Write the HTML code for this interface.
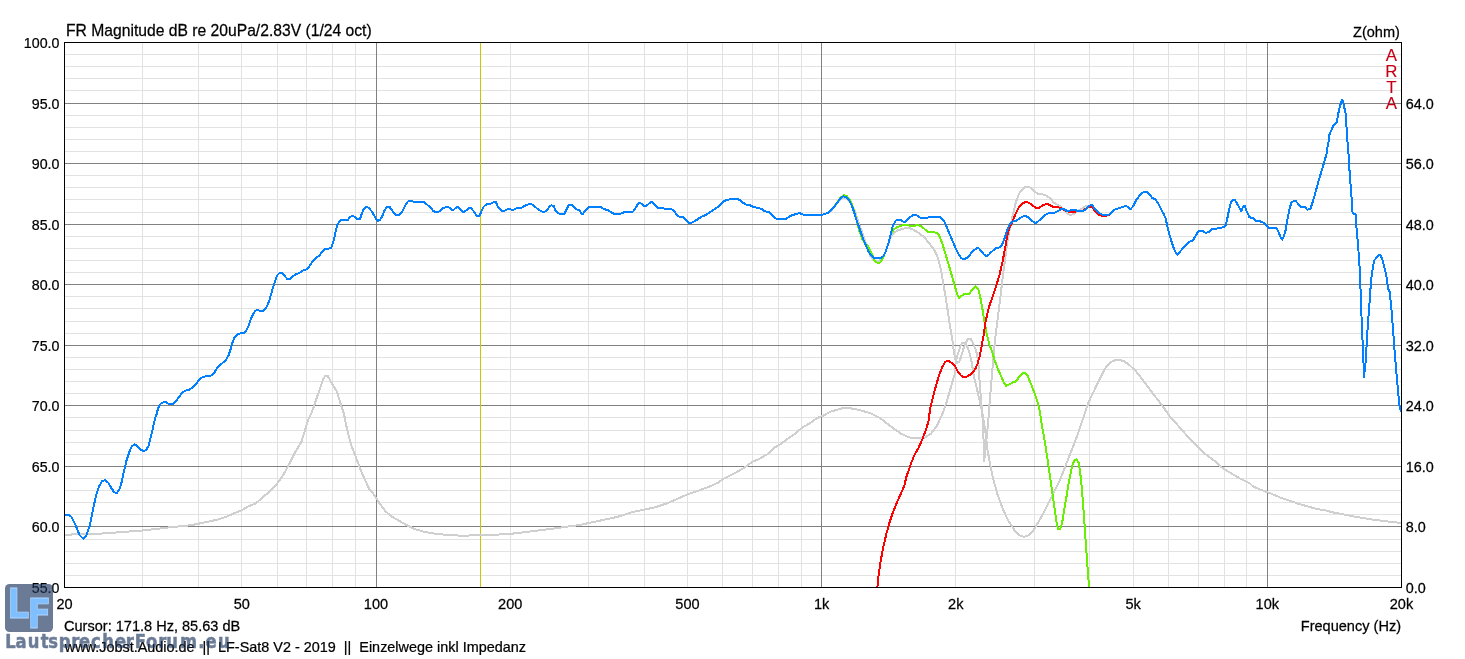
<!DOCTYPE html>
<html lang="en">
<head>
<meta charset="utf-8">
<title>FR Magnitude</title>
<style>
html,body{margin:0;padding:0;background:#fff;}
body{width:1465px;height:659px;overflow:hidden;font-family:"Liberation Sans",Arial,sans-serif;}
svg{display:block;}
svg text{font-family:"Liberation Sans",Arial,sans-serif;font-size:15.4px;fill:#000;stroke:#000;stroke-width:0.25px;}
svg text.t16{font-size:16.4px;}
svg text.arta{font-size:16.4px;fill:#c60014;stroke:#c60014;stroke-width:0.1px;}
svg text.lf{font-family:"DejaVu Sans","Liberation Sans",sans-serif;font-weight:bold;font-size:41px;fill:#3c9eff;stroke:#84c1ff;stroke-width:0.8px;}
svg text.wm{font-family:"DejaVu Sans","Liberation Sans",sans-serif;font-weight:bold;font-size:19.5px;fill:#1d365e;stroke:#1d365e;stroke-width:0.6px;stroke-linejoin:round;}
</style>
</head>
<body>
<svg width="1465" height="659" viewBox="0 0 1465 659">
<rect x="0" y="0" width="1465" height="659" fill="#ffffff"/>
<path d="M64 575.5H1401M64 563.5H1401M64 551.5H1401M64 539.5H1401M64 514.5H1401M64 502.5H1401M64 490.5H1401M64 478.5H1401M64 454.5H1401M64 442.5H1401M64 430.5H1401M64 417.5H1401M64 393.5H1401M64 381.5H1401M64 369.5H1401M64 357.5H1401M64 333.5H1401M64 321.5H1401M64 308.5H1401M64 296.5H1401M64 272.5H1401M64 260.5H1401M64 248.5H1401M64 236.5H1401M64 212.5H1401M64 199.5H1401M64 187.5H1401M64 175.5H1401M64 151.5H1401M64 139.5H1401M64 127.5H1401M64 115.5H1401M64 90.5H1401M64 78.5H1401M64 66.5H1401M64 54.5H1401M142.5 42V587M198.5 42V587M241.5 42V587M277.5 42V587M306.5 42V587M332.5 42V587M355.5 42V587M510.5 42V587M588.5 42V587M644.5 42V587M687.5 42V587M722.5 42V587M752.5 42V587M778.5 42V587M801.5 42V587M955.5 42V587M1034.5 42V587M1089.5 42V587M1133.5 42V587M1168.5 42V587M1198.5 42V587M1224.5 42V587M1246.5 42V587" stroke="#e2e2e2" stroke-width="1" fill="none" shape-rendering="crispEdges"/>
<path d="M64 526.5H1401M64 466.5H1401M64 405.5H1401M64 345.5H1401M64 284.5H1401M64 224.5H1401M64 163.5H1401M64 103.5H1401M376.5 42V587M821.5 42V587M1267.5 42V587" stroke="#808080" stroke-width="1" fill="none" shape-rendering="crispEdges"/>
<path d="M480.5 42V587" stroke="#c8c800" stroke-width="1" fill="none" shape-rendering="crispEdges"/>
<defs><clipPath id="plotclip"><rect x="65" y="43" width="1337" height="545"/></clipPath></defs>
<g clip-path="url(#plotclip)" fill="none" stroke-linejoin="round" stroke-linecap="round" shape-rendering="crispEdges">
<path d="M64.5 534.6 L80.5 534.4 L101.0 533.6 L121.5 532.1 L142.0 530.5 L162.5 528.2 L172.7 527.0 L191.1 525.2 L203.4 522.7 L217.8 519.6 L228.0 516.1 L234.2 513.1 L241.4 510.4 L248.5 506.3 L255.7 503.6 L261.8 498.1 L269.0 492.0 L276.2 484.8 L282.3 476.6 L286.4 469.4 L289.5 463.3 L293.6 455.1 L297.7 447.9 L301.4 441.8 L304.9 430.5 L308.0 420.2 L311.0 414.1 L314.4 405.0 L318.5 392.7 L322.6 380.4 L325.1 375.9 L327.7 375.9 L330.8 381.4 L333.9 386.6 L337.0 391.7 L340.0 401.9 L344.1 414.2 L345.6 422.3 L348.3 434.6 L351.1 444.8 L354.8 454.1 L358.9 465.3 L363.0 475.6 L369.2 488.9 L374.3 495.0 L379.4 503.2 L385.6 511.4 L391.7 516.6 L398.9 520.7 L406.1 524.8 L414.3 528.9 L424.5 531.9 L436.8 534.0 L449.1 535.0 L463.4 535.8 L479.8 535.0 L494.2 534.6 L504.4 534.4 L514.7 533.4 L527.0 531.9 L539.3 530.3 L551.6 528.9 L565.9 526.8 L578.2 525.2 L590.5 522.7 L602.8 520.0 L615.1 517.4 L620.5 516.0 L632.8 511.9 L645.1 509.5 L655.3 507.2 L667.6 503.1 L677.9 498.6 L686.1 494.9 L696.3 491.4 L708.6 486.9 L717.8 482.8 L723.0 479.1 L733.2 474.0 L743.4 468.3 L752.7 461.7 L759.8 458.6 L767.0 454.5 L774.2 447.8 L780.3 444.3 L787.5 438.8 L794.7 434.1 L801.8 427.9 L809.0 423.8 L817.2 418.1 L823.4 415.6 L829.5 412.1 L835.7 410.1 L841.8 408.4 L849.0 408.0 L850.0 408.2 L860.2 410.2 L870.5 413.3 L880.7 418.4 L891.0 426.6 L901.2 433.8 L909.4 437.5 L917.6 438.1 L924.8 437.5 L930.9 433.8 L937.1 425.6 L942.2 414.3 L946.3 403.1 L954.8 373.7 L955.2 365.9 L956.1 361.0 L957.3 356.1 L958.5 352.0 L959.8 347.9 L961.0 344.6 L962.2 343.1 L965.1 343.2 L966.7 345.4 L968.0 348.7 L969.6 353.6 L970.8 358.5 L972.0 363.4 L973.3 373.7 L979.5 400.0 L982.2 412.3 L985.2 430.7 L987.7 451.2 L990.4 465.6 L993.4 479.9 L997.5 494.3 L1002.7 508.6 L1007.8 519.9 L1013.9 529.1 L1015.0 531.2 L1020.1 535.7 L1024.2 536.8 L1028.3 535.3 L1033.4 530.2 L1038.5 522.0 L1044.7 510.7 L1050.8 498.4 L1055.9 488.2 L1060.0 480.0 L1065.2 466.6 L1071.3 451.2 L1077.5 434.8 L1083.6 416.4 L1088.7 402.0 L1100.0 378.3 L1104.4 369.5 L1108.7 364.0 L1113.1 360.8 L1118.6 359.7 L1124.0 361.2 L1129.5 365.1 L1135.0 370.2 L1141.5 378.3 L1148.1 387.0 L1154.6 395.7 L1162.3 405.6 L1169.9 416.5 L1178.7 426.3 L1187.4 436.2 L1196.2 444.9 L1204.9 453.7 L1213.7 460.2 L1222.4 467.9 L1231.1 473.3 L1239.9 478.4 L1249.7 483.2 L1252.8 486.2 L1259.6 489.3 L1267.8 492.3 L1274.6 495.1 L1281.5 498.1 L1289.7 500.8 L1297.9 503.6 L1306.1 506.0 L1315.6 508.7 L1325.2 510.4 L1334.8 512.8 L1344.3 514.5 L1353.9 516.5 L1363.4 518.0 L1373.0 519.7 L1383.9 521.0 L1393.5 522.1 L1401.0 523.1" stroke="#cfcfcf" stroke-width="2"/>
<path d="M810.0 214.9 L818.2 214.9 L822.3 214.7 L825.4 213.7 L828.4 212.9 L831.5 210.2 L834.6 206.7 L837.7 202.6 L840.7 198.9 L843.8 197.9 L846.9 198.9 L850.0 202.0 L854.1 209.2 L858.2 221.5 L862.3 232.7 L866.4 245.0 L870.5 256.3 L873.5 260.4 L876.6 261.4 L879.7 260.4 L882.7 257.3 L885.8 251.2 L888.3 244.0 L890.9 236.8 L894.0 232.7 L898.1 230.3 L903.2 228.6 L908.4 227.6 L912.5 229.3 L916.6 231.7 L920.7 234.4 L924.8 237.9 L928.9 243.0 L933.0 248.1 L936.0 253.2 L938.7 260.4 L941.1 270.7 L943.2 283.0 L945.2 294.2 L949.1 320.0 L950.7 329.8 L952.4 340.5 L953.6 349.5 L954.8 356.9 L956.1 361.4 L957.3 362.6 L958.9 362.2 L960.2 359.3 L961.8 354.4 L963.4 348.7 L965.5 343.8 L967.1 340.1 L968.4 339.0 L970.8 339.0 L972.5 342.1 L974.1 346.2 L975.7 349.5 L977.0 354.4 L977.8 360.2 L978.6 365.9 L979.0 373.7 L981.1 400.0 L982.8 420.5 L983.6 441.0 L984.2 461.1 L985.2 451.2 L986.3 441.0 L988.3 420.5 L989.8 400.0 L992.1 373.7 L993.0 361.0 L993.8 352.8 L994.6 344.6 L995.8 333.9 L997.0 324.1 L997.5 320.0 L1003.6 270.7 L1005.7 254.3 L1007.7 239.9 L1009.8 228.6 L1011.8 219.4 L1013.9 210.2 L1015.9 202.0 L1019.0 193.8 L1022.1 189.7 L1025.2 187.0 L1028.2 186.6 L1031.3 188.1 L1034.4 191.1 L1037.5 193.8 L1041.6 194.2 L1045.7 195.2 L1049.8 197.9 L1053.9 202.6 L1058.0 205.1 L1061.0 206.7 L1064.1 210.2 L1067.2 213.7 L1070.2 214.9 L1073.3 214.3 L1076.4 211.2 L1080.5 209.6 L1084.6 206.7 L1087.7 205.5 L1090.7 205.5" stroke="#cfcfcf" stroke-width="2"/>
<path d="M810.0 214.9 L818.2 214.9 L822.3 214.7 L825.4 213.7 L828.4 212.9 L831.5 209.8 L834.6 206.1 L837.7 201.6 L840.7 197.3 L843.8 195.2 L846.9 196.1 L850.0 200.0 L852.4 205.5 L854.5 212.3 L856.7 220.5 L859.2 230.7 L862.3 238.9 L865.3 244.0 L868.4 246.5 L871.5 253.2 L874.5 260.4 L877.6 263.1 L880.1 262.5 L882.7 258.4 L885.4 252.2 L888.3 244.0 L890.9 233.8 L894.0 229.3 L897.1 227.2 L901.2 225.6 L905.3 225.2 L910.4 225.6 L914.5 225.6 L918.6 225.2 L921.7 226.6 L924.8 229.3 L927.8 231.7 L931.9 232.1 L936.0 232.7 L938.1 233.8 L940.1 237.9 L942.8 245.0 L945.2 253.2 L947.7 261.4 L950.4 270.7 L952.8 278.9 L955.1 287.0 L957.1 294.2 L959.0 298.3 L962.7 294.8 L965.8 293.8 L969.3 293.8 L972.5 289.5 L975.4 286.0 L978.1 288.7 L980.1 296.3 L982.2 307.5 L984.2 319.8 L986.3 332.1 L989.3 344.4 L992.4 352.6 L994.5 359.8 L997.5 368.0 L1000.6 375.2 L1003.7 382.3 L1006.1 385.8 L1009.8 384.0 L1013.9 381.9 L1016.4 381.3 L1019.1 376.8 L1022.1 373.5 L1024.6 372.7 L1027.3 375.2 L1029.9 381.3 L1032.4 387.5 L1035.5 395.7 L1038.1 403.9 L1040.0 412.0 L1041.0 420.5 L1043.6 434.8 L1046.3 451.2 L1048.8 467.6 L1050.8 482.0 L1052.9 496.3 L1054.9 510.7 L1056.6 523.0 L1058.0 529.1 L1060.0 529.5 L1062.1 523.0 L1064.1 510.7 L1066.2 498.4 L1068.2 486.1 L1070.3 474.8 L1072.3 465.6 L1074.4 460.5 L1076.4 459.4 L1078.5 462.5 L1079.9 469.7 L1081.6 486.1 L1083.0 502.5 L1084.2 518.9 L1085.2 534.2 L1086.1 547.6 L1087.3 564.0 L1088.3 576.3 L1088.9 587.0" stroke="#68f000" stroke-width="2"/>
<path d="M877.4 587.0 L878.5 576.3 L880.5 562.0 L883.2 547.6 L886.0 535.3 L889.3 523.0 L892.8 512.8 L896.9 502.5 L901.0 493.3 L904.5 485.1 L906.1 477.9 L910.2 465.6 L914.3 455.3 L918.4 448.2 L922.5 438.9 L925.6 430.7 L928.7 420.5 L928.7 419.2 L930.3 408.0 L933.0 396.7 L936.1 385.4 L939.1 375.2 L942.2 367.0 L945.3 361.8 L948.4 360.8 L951.4 362.9 L954.5 365.3 L957.6 371.1 L960.7 375.2 L963.7 377.2 L966.8 376.6 L969.9 374.8 L973.0 372.1 L975.4 368.6 L977.5 363.9 L979.5 356.7 L981.6 346.5 L983.6 335.2 L985.2 323.9 L987.3 313.7 L989.8 304.5 L992.4 297.3 L996.5 285.0 L999.5 274.8 L1002.6 261.4 L1004.7 250.2 L1006.7 238.9 L1008.8 229.7 L1011.8 223.5 L1014.9 215.3 L1018.0 208.8 L1021.1 204.7 L1024.1 202.6 L1027.2 202.0 L1030.3 203.6 L1033.4 206.1 L1036.4 208.2 L1039.5 207.5 L1042.6 205.5 L1045.7 204.1 L1048.7 204.5 L1052.8 206.7 L1058.0 207.1 L1061.0 208.2 L1064.1 209.8 L1066.1 211.2 L1070.2 212.0 L1074.3 211.6 L1078.0 211.4 L1081.5 211.4 L1084.6 209.6 L1087.7 207.5 L1090.3 206.1 L1092.8 208.2 L1095.9 212.3 L1098.9 214.9 L1102.0 215.9 L1105.1 215.7 L1106.7 215.7 L1110.1 214.3 L1113.6 209.8 L1116.6 209.0 L1119.7 208.0 L1122.8 206.8 L1125.9 205.9 L1127.9 206.8 L1130.4 209.4 L1133.0 206.4 L1136.1 200.2 L1139.2 196.1 L1142.3 192.6 L1145.3 192.0 L1147.8 192.6 L1150.5 195.5 L1152.5 198.2 L1155.2 199.2 L1157.6 202.3 L1160.7 208.4 L1163.4 213.5 L1165.4 217.6 L1167.5 226.8 L1169.9 236.1 L1172.4 244.3 L1175.0 251.4 L1177.5 254.9 L1180.2 251.4 L1183.2 248.0 L1186.3 244.3 L1189.4 241.8 L1192.5 240.8 L1194.9 237.1 L1197.6 232.6 L1199.6 230.9 L1202.7 231.1 L1205.8 233.0 L1208.9 232.0 L1211.9 229.3 L1216.0 228.9 L1219.1 227.9 L1222.2 227.5 L1225.2 226.4 L1226.9 220.7 L1228.9 210.5 L1231.0 202.3 L1233.0 199.8 L1235.1 200.2 L1237.1 203.7 L1239.6 208.0 L1241.2 211.1 L1243.3 206.4 L1244.7 205.9 L1246.8 211.5 L1249.4 217.2 L1252.9 218.2 L1256.0 220.7 L1260.1 221.3 L1263.8 222.7 L1266.6 225.8 L1269.3 227.9 L1273.4 227.9 L1276.5 228.3 L1278.5 232.0 L1280.6 237.1 L1282.2 239.8 L1284.3 235.0 L1285.7 229.9 L1287.1 220.7 L1289.2 210.5 L1291.2 202.9 L1293.3 201.2 L1295.5 200.8 L1298.0 203.7 L1301.1 206.8 L1304.8 207.0 L1307.2 209.8 L1310.3 209.0 L1312.3 203.3 L1314.4 196.1 L1317.5 184.8 L1320.5 174.6 L1323.6 164.3 L1326.7 153.1 L1327.3 147.6 L1328.6 141.9 L1329.0 135.7 L1330.9 131.1 L1333.0 126.4 L1335.0 124.4 L1336.9 122.3 L1337.6 117.2 L1338.6 112.0 L1339.7 107.3 L1341.0 102.7 L1342.0 99.9 L1343.1 100.6 L1343.8 104.8 L1344.8 109.9 L1345.9 115.1 L1346.2 121.3 L1346.6 128.5 L1347.2 135.7 L1347.6 144.0 L1348.5 153.7 L1349.6 171.9 L1350.8 187.8 L1351.9 201.5 L1352.6 213.3 L1355.8 214.5 L1356.4 226.6 L1357.6 240.2 L1358.7 253.9 L1359.9 272.1 L1360.5 289.2 L1360.5 295.9 L1361.5 316.4 L1362.4 336.9 L1363.3 357.4 L1364.0 376.8 L1365.6 362.0 L1366.7 343.8 L1367.8 325.6 L1369.0 309.6 L1370.1 295.9 L1371.0 280.0 L1371.9 274.4 L1374.0 260.7 L1376.9 257.3 L1379.9 254.6 L1382.0 258.5 L1384.2 266.4 L1386.5 276.7 L1388.3 289.2 L1389.5 291.4 L1391.1 305.1 L1392.4 321.0 L1393.6 336.9 L1394.7 352.9 L1396.3 371.1 L1397.9 389.3 L1399.3 405.3 L1400.9 411.0" stroke="#ff0000" stroke-width="2"/>
<path d="M64.5 515.5 L68.2 514.5 L71.3 516.6 L75.4 524.8 L79.5 535.0 L83.2 538.7 L86.6 535.0 L89.7 525.8 L92.8 510.4 L95.9 496.1 L98.9 486.8 L102.0 481.1 L105.1 480.1 L108.2 482.7 L111.2 487.9 L114.3 492.4 L117.0 492.8 L119.4 489.5 L121.5 482.7 L123.9 471.5 L126.6 460.2 L129.7 451.0 L132.1 445.9 L134.8 444.4 L137.9 446.5 L140.5 449.5 L143.4 451.0 L146.1 450.0 L148.5 445.9 L151.2 435.6 L153.9 423.3 L156.3 414.1 L156.6 414.2 L158.1 408.1 L160.7 403.6 L163.8 402.1 L166.5 402.3 L168.9 404.2 L173.0 404.2 L176.1 400.9 L179.2 396.8 L182.3 392.3 L185.3 390.7 L189.4 389.6 L192.5 387.6 L195.6 384.5 L198.6 380.4 L201.7 377.7 L205.8 376.3 L210.9 375.7 L214.0 373.2 L217.1 368.1 L220.2 365.0 L223.2 362.4 L226.3 359.3 L228.8 354.8 L230.8 348.6 L232.5 342.5 L234.5 337.4 L237.0 334.7 L240.7 333.3 L243.7 332.9 L246.4 330.2 L248.9 325.1 L250.9 318.9 L253.0 314.4 L255.4 310.7 L258.1 310.1 L261.1 311.1 L264.2 310.3 L266.9 306.6 L269.3 300.5 L271.4 293.3 L273.4 286.1 L275.5 280.0 L277.0 275.5 L279.7 272.9 L282.2 273.1 L284.8 276.1 L287.3 279.0 L290.0 279.0 L293.0 276.1 L296.1 274.1 L299.2 273.1 L302.3 270.8 L306.4 269.4 L309.4 266.3 L312.5 261.2 L316.0 257.7 L319.3 255.7 L322.1 252.0 L325.2 248.9 L328.9 248.5 L331.4 247.5 L333.4 241.7 L335.0 234.5 L337.1 225.3 L340.2 220.2 L344.3 219.8 L348.0 219.8 L350.0 217.1 L352.5 215.9 L354.5 216.7 L357.0 218.8 L360.0 218.8 L361.7 214.1 L363.7 208.9 L366.2 206.9 L368.9 207.9 L371.9 211.6 L375.0 217.1 L377.5 220.8 L379.7 220.2 L382.2 216.1 L384.8 210.0 L387.3 206.5 L389.3 206.5 L392.4 211.0 L395.9 214.7 L399.2 214.7 L401.6 212.6 L404.1 207.9 L406.8 202.8 L408.8 200.7 L411.9 201.4 L416.0 202.0 L420.1 202.0 L423.8 202.2 L427.3 204.8 L430.3 207.5 L433.4 211.0 L435.5 212.0 L438.5 212.0 L441.6 209.3 L443.6 207.9 L446.3 207.3 L448.8 207.3 L451.8 210.0 L453.9 209.5 L456.6 207.3 L458.6 207.3 L461.1 210.4 L463.5 212.0 L466.2 210.4 L468.9 208.1 L470.9 208.1 L473.4 211.0 L476.4 215.5 L479.5 216.1 L481.6 211.0 L483.6 206.9 L486.7 204.0 L490.8 203.6 L493.9 202.2 L495.9 202.2 L497.5 205.9 L500.0 209.3 L502.5 211.0 L505.1 210.6 L507.8 208.9 L510.2 208.9 L512.3 210.2 L515.4 208.9 L517.4 207.9 L521.5 207.9 L524.6 205.9 L527.0 204.8 L530.3 203.8 L532.8 204.8 L535.9 207.5 L538.9 210.0 L542.0 211.6 L545.1 211.6 L547.5 210.0 L549.5 206.4 L551.5 205.3 L553.6 205.9 L555.6 210.5 L558.7 213.5 L561.8 214.1 L564.2 213.9 L566.5 209.4 L568.9 204.9 L571.4 204.7 L574.1 207.0 L576.7 209.4 L579.2 209.8 L581.2 213.5 L582.9 213.9 L585.3 210.5 L588.4 207.4 L591.5 206.6 L595.6 206.6 L600.7 206.8 L603.8 209.0 L607.9 210.2 L610.9 212.1 L614.0 213.9 L618.1 213.9 L621.2 213.5 L624.3 212.1 L628.4 211.5 L633.1 211.5 L635.5 208.0 L638.6 202.9 L640.7 203.3 L643.7 205.7 L646.4 205.7 L648.9 203.7 L651.3 201.6 L653.0 202.9 L655.4 205.7 L658.1 208.0 L663.2 208.4 L666.3 209.0 L671.4 209.2 L674.1 211.1 L676.5 214.5 L679.2 216.6 L682.7 217.0 L685.7 219.7 L688.8 222.7 L690.9 223.0 L693.9 221.7 L697.0 219.7 L700.1 217.6 L703.2 216.0 L706.2 214.8 L709.3 212.5 L712.4 210.5 L715.5 208.4 L718.5 206.4 L721.6 203.3 L724.7 200.8 L727.7 199.8 L730.8 199.2 L733.9 198.6 L737.0 198.8 L740.0 200.2 L743.1 202.9 L746.2 204.5 L750.3 205.3 L753.4 207.0 L757.5 207.8 L761.6 209.0 L764.6 211.1 L768.7 212.1 L771.8 215.2 L774.9 217.6 L776.9 219.1 L781.0 219.1 L786.1 218.9 L789.2 216.6 L792.3 215.2 L796.4 213.9 L799.5 213.1 L803.6 214.8 L808.7 215.0 L814.8 215.0 L821.0 215.0 L825.1 213.9 L825.4 213.7 L828.4 212.9 L831.5 209.8 L834.6 206.1 L837.7 202.0 L840.7 197.9 L843.2 196.3 L845.9 196.9 L848.9 200.0 L852.0 206.1 L854.1 212.3 L856.7 220.5 L859.2 227.6 L862.3 236.8 L865.3 244.0 L868.4 251.2 L871.5 255.9 L874.5 258.0 L877.6 258.4 L880.7 258.4 L883.4 256.3 L885.8 251.2 L888.3 244.0 L890.5 234.8 L893.0 225.6 L895.7 220.5 L898.1 219.6 L901.2 220.2 L903.2 221.7 L905.9 221.5 L908.4 219.0 L911.0 216.4 L913.5 214.9 L916.1 214.9 L918.6 216.6 L921.1 218.0 L924.8 218.0 L927.2 217.8 L929.9 216.8 L935.0 216.8 L939.5 216.8 L942.2 219.0 L944.8 222.5 L947.3 228.6 L950.4 235.8 L953.4 243.0 L956.5 250.2 L959.2 255.3 L961.6 258.4 L964.1 259.2 L966.8 258.0 L969.4 255.3 L971.9 252.2 L974.5 249.8 L977.0 248.1 L979.1 248.5 L981.7 251.8 L984.2 254.7 L986.2 255.9 L988.3 255.3 L990.7 252.6 L993.4 250.2 L995.5 248.5 L998.1 247.7 L1000.6 246.9 L1002.6 243.6 L1004.7 237.9 L1006.7 231.7 L1008.8 226.0 L1011.2 222.5 L1013.9 221.1 L1016.6 220.5 L1019.0 218.8 L1022.1 216.8 L1024.1 215.9 L1026.8 216.6 L1029.7 218.4 L1032.3 220.9 L1035.4 223.1 L1037.9 221.5 L1040.5 219.4 L1043.6 216.4 L1046.7 213.9 L1049.8 212.9 L1052.8 212.9 L1055.9 212.3 L1059.0 210.4 L1062.0 208.8 L1064.1 209.2 L1066.6 210.6 L1069.2 210.8 L1072.3 210.0 L1075.4 209.8 L1078.0 211.4 L1081.5 211.4 L1084.6 210.2 L1087.0 208.2 L1089.7 205.5 L1092.4 205.1 L1094.8 209.2 L1097.9 212.3 L1101.0 214.1 L1104.1 215.3 L1107.1 215.3 L1110.5 213.9 L1113.6 209.8 L1116.6 209.0 L1119.7 208.0 L1122.8 206.8 L1125.9 205.9 L1127.9 206.8 L1130.4 209.4 L1133.0 206.4 L1136.1 200.2 L1139.2 196.1 L1142.3 192.6 L1145.3 192.0 L1147.8 192.6 L1150.5 195.5 L1152.5 198.2 L1155.2 199.2 L1157.6 202.3 L1160.7 208.4 L1163.4 213.5 L1165.4 217.6 L1167.5 226.8 L1169.9 236.1 L1172.4 244.3 L1175.0 251.4 L1177.5 254.9 L1180.2 251.4 L1183.2 248.0 L1186.3 244.3 L1189.4 241.8 L1192.5 240.8 L1194.9 237.1 L1197.6 232.6 L1199.6 230.9 L1202.7 231.1 L1205.8 233.0 L1208.9 232.0 L1211.9 229.3 L1216.0 228.9 L1219.1 227.9 L1222.2 227.5 L1225.2 226.4 L1226.9 220.7 L1228.9 210.5 L1231.0 202.3 L1233.0 199.8 L1235.1 200.2 L1237.1 203.7 L1239.6 208.0 L1241.2 211.1 L1243.3 206.4 L1244.7 205.9 L1246.8 211.5 L1249.4 217.2 L1252.9 218.2 L1256.0 220.7 L1260.1 221.3 L1263.8 222.7 L1266.6 225.8 L1269.3 227.9 L1273.4 227.9 L1276.5 228.3 L1278.5 232.0 L1280.6 237.1 L1282.2 239.8 L1284.3 235.0 L1285.7 229.9 L1287.1 220.7 L1289.2 210.5 L1291.2 202.9 L1293.3 201.2 L1295.5 200.8 L1298.0 203.7 L1301.1 206.8 L1304.8 207.0 L1307.2 209.8 L1310.3 209.0 L1312.3 203.3 L1314.4 196.1 L1317.5 184.8 L1320.5 174.6 L1323.6 164.3 L1326.7 153.1 L1327.3 147.6 L1328.6 141.9 L1329.0 135.7 L1330.9 131.1 L1333.0 126.4 L1335.0 124.4 L1336.9 122.3 L1337.6 117.2 L1338.6 112.0 L1339.7 107.3 L1341.0 102.7 L1342.0 99.9 L1343.1 100.6 L1343.8 104.8 L1344.8 109.9 L1345.9 115.1 L1346.2 121.3 L1346.6 128.5 L1347.2 135.7 L1347.6 144.0 L1348.5 153.7 L1349.6 171.9 L1350.8 187.8 L1351.9 201.5 L1352.6 213.3 L1355.8 214.5 L1356.4 226.6 L1357.6 240.2 L1358.7 253.9 L1359.9 272.1 L1360.5 289.2 L1360.5 295.9 L1361.5 316.4 L1362.4 336.9 L1363.3 357.4 L1364.0 376.8 L1365.6 362.0 L1366.7 343.8 L1367.8 325.6 L1369.0 309.6 L1370.1 295.9 L1371.0 280.0 L1371.9 274.4 L1374.0 260.7 L1376.9 257.3 L1379.9 254.6 L1382.0 258.5 L1384.2 266.4 L1386.5 276.7 L1388.3 289.2 L1389.5 291.4 L1391.1 305.1 L1392.4 321.0 L1393.6 336.9 L1394.7 352.9 L1396.3 371.1 L1397.9 389.3 L1399.3 405.3 L1400.9 411.0" stroke="#0080ff" stroke-width="2"/>
</g>
<rect x="64.5" y="42.5" width="1337" height="545" fill="none" stroke="#000" stroke-width="1" shape-rendering="crispEdges"/>
<text transform="translate(59.5 593.0) scale(0.925 1)" text-anchor="end">55.0</text>
<text transform="translate(59.5 532.4) scale(0.925 1)" text-anchor="end">60.0</text>
<text transform="translate(59.5 471.9) scale(0.925 1)" text-anchor="end">65.0</text>
<text transform="translate(59.5 411.3) scale(0.925 1)" text-anchor="end">70.0</text>
<text transform="translate(59.5 350.8) scale(0.925 1)" text-anchor="end">75.0</text>
<text transform="translate(59.5 290.2) scale(0.925 1)" text-anchor="end">80.0</text>
<text transform="translate(59.5 229.7) scale(0.925 1)" text-anchor="end">85.0</text>
<text transform="translate(59.5 169.1) scale(0.925 1)" text-anchor="end">90.0</text>
<text transform="translate(59.5 108.6) scale(0.925 1)" text-anchor="end">95.0</text>
<text transform="translate(59.5 48.0) scale(0.925 1)" text-anchor="end">100.0</text>
<text transform="translate(1405.8 593.0) scale(0.935 1)">0.0</text>
<text transform="translate(1405.8 532.4) scale(0.935 1)">8.0</text>
<text transform="translate(1405.8 471.9) scale(0.935 1)">16.0</text>
<text transform="translate(1405.8 411.3) scale(0.935 1)">24.0</text>
<text transform="translate(1405.8 350.8) scale(0.935 1)">32.0</text>
<text transform="translate(1405.8 290.2) scale(0.935 1)">40.0</text>
<text transform="translate(1405.8 229.7) scale(0.935 1)">48.0</text>
<text transform="translate(1405.8 169.1) scale(0.935 1)">56.0</text>
<text transform="translate(1405.8 108.6) scale(0.935 1)">64.0</text>
<text transform="translate(64.5 608.6) scale(0.945 1)" text-anchor="middle">20</text>
<text transform="translate(241.8 608.6) scale(0.945 1)" text-anchor="middle">50</text>
<text transform="translate(376.0 608.6) scale(0.945 1)" text-anchor="middle">100</text>
<text transform="translate(510.2 608.6) scale(0.945 1)" text-anchor="middle">200</text>
<text transform="translate(687.5 608.6) scale(0.945 1)" text-anchor="middle">500</text>
<text transform="translate(821.7 608.6) scale(0.945 1)" text-anchor="middle">1k</text>
<text transform="translate(955.8 608.6) scale(0.945 1)" text-anchor="middle">2k</text>
<text transform="translate(1133.2 608.6) scale(0.945 1)" text-anchor="middle">5k</text>
<text transform="translate(1267.3 608.6) scale(0.945 1)" text-anchor="middle">10k</text>
<text transform="translate(1401.5 608.6) scale(0.945 1)" text-anchor="middle">20k</text>
<text transform="translate(66.0 36.2) scale(0.956 1)" class="t16">FR Magnitude dB re 20uPa/2.83V (1/24 oct)</text>
<text transform="translate(1399.9 37.0) scale(0.945 1)" text-anchor="end">Z(ohm)</text>
<text transform="translate(1401.0 630.8) scale(0.945 1)" text-anchor="end">Frequency (Hz)</text>
<text transform="translate(64.0 630.8) scale(0.945 1)">Cursor: 171.8 Hz, 85.63 dB</text>
<text transform="translate(64.8 651.8) scale(0.9365 1)" xml:space="preserve">www.Jobst.Audio.de  ||  LF-Sat8 V2 - 2019  ||  Einzelwege inkl Impedanz</text>
<text transform="translate(1391.4 61.1) scale(1.03 1)" text-anchor="middle" class="arta">A</text>
<text transform="translate(1391.4 77.2) scale(1.03 1)" text-anchor="middle" class="arta">R</text>
<text transform="translate(1391.4 93.2) scale(1.03 1)" text-anchor="middle" class="arta">T</text>
<text transform="translate(1391.4 109.2) scale(1.03 1)" text-anchor="middle" class="arta">A</text>
<g opacity="0.65">
<rect x="5" y="584" width="48" height="48" rx="4.5" ry="4.5" fill="#1d365e"/>
<text class="lf" transform="translate(7.3 617.9) scale(0.845 1)" x="0" y="0">L</text>
<text class="lf" transform="translate(27.4 628.4) scale(0.85 1)" x="0" y="0">F</text>
<text class="wm" transform="translate(0 648) scale(0.84 1)" x="6.3 18.6 32.9 48.4 57.4 69.9 84.7 94.1 108.2 121.6 136.8 149.8 160.3 173.7 188.3 197.9 214.3 236.1 244.7 259.5" y="0">LautsprecherForum.eu</text>
</g>
</svg>
</body>
</html>
